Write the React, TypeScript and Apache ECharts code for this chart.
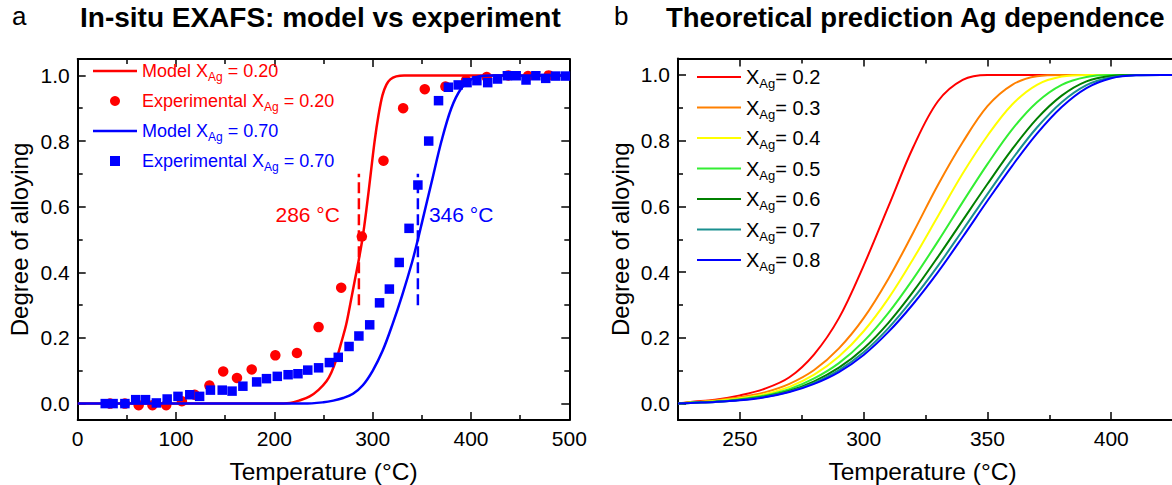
import React, { useEffect, useRef } from "react";
import * as echarts from "echarts";

// ---------- Panel a data ----------
const modelRed: number[][] = [
  [0, 0], [200, 0], [216, 0.002], [226, 0.01], [236, 0.022], [245, 0.042], [253, 0.068], [258, 0.095],
  [263, 0.134], [268, 0.185], [273, 0.24], [277, 0.3], [282, 0.378], [286, 0.44], [290, 0.51],
  [294, 0.6], [298, 0.7], [302, 0.8], [306, 0.88], [310, 0.94], [314, 0.972], [318, 0.988],
  [324, 0.997], [332, 1.0], [500, 1.0],
];
const modelBlue: number[][] = [
  [0, 0], [230, 0], [250, 0.004], [260, 0.009], [270, 0.017], [280, 0.03], [290, 0.056], [300, 0.1],
  [310, 0.16], [320, 0.24], [330, 0.33], [340, 0.43], [346, 0.5], [350, 0.55], [360, 0.675],
  [370, 0.8], [380, 0.9], [390, 0.96], [400, 0.988], [410, 0.998], [420, 1.0], [500, 1.0],
];
const expRed: number[][] = [
  [33, 0], [48, 0], [62, -0.005], [76, -0.005], [90, -0.005], [106, 0.007], [119, 0.027], [134, 0.055],
  [148, 0.098], [162, 0.078], [177, 0.104], [201, 0.147], [223, 0.154], [245, 0.233], [268, 0.353],
  [289, 0.509], [311, 0.74], [331, 0.9], [353, 0.958], [374, 0.966], [395, 0.985], [416, 0.995],
  [438, 1.0], [458, 0.998], [479, 1.0],
];
const expBlue: number[][] = [
  [28, 0], [36, 0], [48, 0], [59, 0.012], [69, 0.012], [80, 0.002], [91, 0.014], [102, 0.022],
  [114, 0.027], [124, 0.022], [135, 0.041], [147, 0.041], [157, 0.038], [168, 0.053], [182, 0.066],
  [192, 0.076], [203, 0.083], [214, 0.088], [224, 0.091], [234, 0.102], [245, 0.109], [256, 0.125],
  [265, 0.141], [276, 0.174], [286, 0.206], [297, 0.24], [307, 0.307], [317, 0.349], [327, 0.43],
  [337, 0.534], [346, 0.666], [357, 0.8], [367, 0.923], [377, 0.964], [387, 0.971], [396, 0.978],
  [406, 0.984], [417, 0.978], [427, 0.989], [437, 0.999], [446, 0.999], [456, 0.986], [466, 0.999],
  [476, 0.991], [486, 0.998], [496, 0.998],
];
const markTemps = [286, 346];
const markRange = [0.3, 0.7];
const markLabelY = 0.575;

// ---------- Panel b data ----------
const tGrid = [225, 230, 240, 250, 260, 270, 280, 290, 300, 310, 320, 330, 340, 350, 360, 370, 380, 390, 400, 410, 420, 450];
const curve02 = [0, .005, .012, .025, .045, .08, .15, .26, .42, .60, .78, .92, .985, 1, 1, 1, 1, 1, 1, 1, 1, 1];
const curve03 = [0, .004, .01, .019, .034, .06, .102, .168, .26, .38, .52, .665, .795, .905, .97, .996, 1, 1, 1, 1, 1, 1];
const curve04 = [0, .003, .008, .016, .029, .051, .088, .143, .22, .32, .44, .57, .70, .815, .91, .97, .995, 1, 1, 1, 1, 1];
const curve05 = [0, .003, .0066, .0133, .0248, .044, .0766, .1232, .1892, .276, .3795, .4935, .613, .7285, .8345, .917, .97, .9939, .9996, 1, 1, 1];
const curve06 = [0, .002, .0052, .0116, .0218, .0392, .0678, .1092, .1676, .2456, .3404, .4464, .5576, .668, .774, .867, .937, .9804, .9968, 1, 1, 1];
const curve07 = [0, .002, .005, .0105, .020, .0365, .063, .1015, .156, .2295, .319, .419, .5275, .6375, .744, .84, .917, .969, .993, .999, 1, 1];
const curve08 = [0, .002, .005, .010, .019, .035, .06, .096, .148, .218, .303, .40, .507, .617, .7235, .8215, .9025, .96, .99, .999, 1, 1];
const fractions = ["0.2", "0.3", "0.4", "0.5", "0.6", "0.7", "0.8"];
const curveColors = ["#ff0000", "#ff8000", "#ffff00", "#33ee33", "#008000", "#1a8f8f", "#0000ff"];
const curves = [curve02, curve03, curve04, curve05, curve06, curve07, curve08];

const yMajor = [0, 0.2, 0.4, 0.6, 0.8, 1.0];
const yMinor = [0.1, 0.3, 0.5, 0.7, 0.9];
const bMajorX = [250, 300, 350, 400, 450];
const bLabelX = [250, 300, 350, 400];
const bMinorX = [275, 325, 375, 425];

const FONT = "'Liberation Sans', Arial, sans-serif";
const BLACK = "#000";
const LINE_ICON = "path://M0,0L44,0L44,2.5L0,2.5Z";
const LINE_ICON_B = "path://M0,0L44,0L44,2L0,2Z";
const SQUARE_ICON = "path://M0,0L10,0L10,10L0,10Z";

function buildOption() {
  const axisLine = { show: true, onZero: false, lineStyle: { color: BLACK, width: 2 } };
  const tickMajor = { show: true, inside: true, length: 8, lineStyle: { color: BLACK, width: 1.5 } };
  const tickMinor = { show: true, inside: true, length: 5, lineStyle: { color: BLACK, width: 1.5 } };
  const label = { show: true, color: BLACK, fontSize: 21, fontFamily: FONT, margin: 8 };
  const nameStyle = { color: BLACK, fontSize: 24.5, fontFamily: FONT };
  const noLabel = { show: false };
  const noSplit = { show: false };

  const gA = { left: 77.7, top: 59, width: 491.6, height: 361 };
  const gB = { left: 678, top: 58.5, width: 557, height: 361.5 };

  const xAxis: any[] = [
    {
      gridIndex: 0, type: "value", position: "bottom", min: 0, max: 500, interval: 100,
      axisLine, axisTick: tickMajor, minorTick: { show: true, splitNumber: 2, length: 5, lineStyle: { color: BLACK, width: 1.5 } },
      axisLabel: label, splitLine: noSplit, minorSplitLine: noSplit,
      name: "Temperature (°C)", nameLocation: "middle", nameGap: 39, nameTextStyle: nameStyle,
    },
    {
      gridIndex: 0, type: "value", position: "top", min: 0, max: 500, interval: 100,
      axisLine, axisTick: tickMajor, minorTick: { show: true, splitNumber: 2, length: 5, lineStyle: { color: BLACK, width: 1.5 } },
      axisLabel: noLabel, splitLine: noSplit, minorSplitLine: noSplit,
    },
    {
      gridIndex: 1, type: "value", position: "bottom", min: 225, max: 450,
      axisLine, axisTick: { ...tickMajor, customValues: bMajorX },
      axisLabel: { ...label, customValues: bLabelX }, splitLine: noSplit,
      name: "Temperature (°C)", nameLocation: "middle", nameGap: 39,
      nameTextStyle: { ...nameStyle, padding: [0, 68, 0, 0] },
    },
    {
      gridIndex: 1, type: "value", position: "top", min: 225, max: 450,
      axisLine, axisTick: { ...tickMajor, customValues: bMajorX }, axisLabel: noLabel, splitLine: noSplit,
    },
    {
      gridIndex: 1, type: "value", position: "bottom", min: 225, max: 450,
      axisLine: { show: false, onZero: false }, axisTick: { ...tickMinor, customValues: bMinorX }, axisLabel: noLabel, splitLine: noSplit,
    },
    {
      gridIndex: 1, type: "value", position: "top", min: 225, max: 450,
      axisLine: { show: false, onZero: false }, axisTick: { ...tickMinor, customValues: bMinorX }, axisLabel: noLabel, splitLine: noSplit,
    },
  ];

  const yLabel = { ...label, customValues: yMajor, formatter: (v: number) => v.toFixed(1) };
  const mkY = (gridIndex: number, position: string, major: boolean, withLabel: boolean, withName: boolean) => {
    const ax: any = {
      gridIndex, type: "value", position, min: -0.05, max: 1.05,
      axisLine: major ? axisLine : { show: false, onZero: false },
      axisTick: major ? { ...tickMajor, customValues: yMajor } : { ...tickMinor, customValues: yMinor },
      axisLabel: withLabel ? yLabel : noLabel,
      splitLine: noSplit,
    };
    if (withName) {
      ax.name = "Degree of alloying";
      ax.nameLocation = "middle";
      ax.nameGap = 46;
      ax.nameTextStyle = { ...nameStyle, fontSize: 24 };
    }
    return ax;
  };
  const yAxis: any[] = [
    mkY(0, "left", true, true, true),
    mkY(0, "left", false, false, false),
    mkY(0, "right", true, false, false),
    mkY(0, "right", false, false, false),
    mkY(1, "left", true, true, true),
    mkY(1, "left", false, false, false),
  ];

  const SM = 0.35;
  const series: any[] = [
    {
      name: "m20", type: "line", xAxisIndex: 0, yAxisIndex: 0, data: modelRed, symbol: "none",
      smooth: SM, color: "#ff0000", lineStyle: { color: "#ff0000", width: 2.5 }, z: 2,
    },
    {
      name: "e20", type: "scatter", xAxisIndex: 0, yAxisIndex: 0, data: expRed, symbol: "circle",
      symbolSize: 10.5, itemStyle: { color: "#ff0000", opacity: 1 }, z: 3,
    },
    {
      name: "m70", type: "line", xAxisIndex: 0, yAxisIndex: 0, data: modelBlue, symbol: "none",
      smooth: SM, color: "#0000ff", lineStyle: { color: "#0000ff", width: 2.5 }, z: 4,
    },
    {
      name: "e70", type: "scatter", xAxisIndex: 0, yAxisIndex: 0, data: expBlue, symbol: "rect",
      symbolSize: 9.5, itemStyle: { color: "#0000ff", opacity: 1 }, z: 5,
    },
  ];
  const markColors = ["#ff0000", "#0000ff"];
  markTemps.forEach((t, i) => {
    series.push({
      name: "dash" + t, type: "line", xAxisIndex: 0, yAxisIndex: 0, symbol: "none",
      data: markRange.map((y) => [t, y]),
      lineStyle: { color: markColors[i], width: 2.5, type: [11, 5] }, z: 6, silent: true,
    });
    series.push({
      name: "lbl" + t, type: "scatter", xAxisIndex: 0, yAxisIndex: 0, symbolSize: 0,
      data: [[t, markLabelY]], silent: true, z: 6, itemStyle: { opacity: 1 },
      label: {
        show: true, position: i === 0 ? "left" : "right", distance: i === 0 ? 19 : 11,
        formatter: `${t} °C`, color: markColors[i], fontSize: 21, fontFamily: FONT, opacity: 1,
      },
    });
  });
  curves.forEach((c, i) => {
    series.push({
      name: fractions[i], type: "line", xAxisIndex: 2, yAxisIndex: 4,
      data: tGrid.map((t, k) => [t, c[k]]), symbol: "none", smooth: SM,
      color: curveColors[i], lineStyle: { color: curveColors[i], width: 2 }, z: 2 + i,
    });
  });

  const legendA: Record<string, string> = {
    m20: "{n|Model X}{s|Ag}{n| = 0.20}",
    e20: "{n|Experimental X}{s|Ag}{n| = 0.20}",
    m70: "{n|Model X}{s|Ag}{n| = 0.70}",
    e70: "{n|Experimental X}{s|Ag}{n| = 0.70}",
  };

  return {
    animation: false,
    textStyle: { fontFamily: FONT },
    title: [
      { text: "a", left: 12, top: 3, padding: 0, textStyle: { fontSize: 26, fontWeight: "normal", color: BLACK, fontFamily: FONT } },
      { text: "In-situ EXAFS: model vs experiment", left: 80, top: 3, padding: 0, textStyle: { fontSize: 28, fontWeight: "bold", color: BLACK, fontFamily: FONT } },
      { text: "b", left: 614, top: 3, padding: 0, textStyle: { fontSize: 26, fontWeight: "normal", color: BLACK, fontFamily: FONT } },
      { text: "Theoretical prediction Ag dependence", left: 666, top: 3, padding: 0, textStyle: { fontSize: 27.5, fontWeight: "bold", color: BLACK, fontFamily: FONT } },
    ],
    grid: [
      { ...gA, containLabel: false, outerBoundsMode: "none" },
      { ...gB, containLabel: false, outerBoundsMode: "none" },
    ],
    legend: [
      {
        orient: "vertical", left: 93, top: 62, padding: 0, itemWidth: 44, itemHeight: 10, itemGap: 9,
        selectedMode: false,
        data: [
          { name: "m20", icon: LINE_ICON, textStyle: { color: "#ff0000" } },
          { name: "e20", icon: "circle", textStyle: { color: "#ff0000" } },
          { name: "m70", icon: LINE_ICON, textStyle: { color: "#0000ff" } },
          { name: "e70", icon: SQUARE_ICON, textStyle: { color: "#0000ff" } },
        ],
        formatter: (name: string) => legendA[name],
        textStyle: {
          fontFamily: FONT,
          rich: {
            n: { fontSize: 18, lineHeight: 24, fontFamily: FONT },
            s: { fontSize: 12, lineHeight: 8, verticalAlign: "bottom", fontFamily: FONT },
          },
        },
      },
      {
        orient: "vertical", left: 697, top: 67, padding: 0, itemWidth: 44, itemHeight: 10, itemGap: 7.5,
        selectedMode: false,
        data: fractions.map((f) => ({ name: f, icon: LINE_ICON_B })),
        formatter: (name: string) => `{n|X}{s|Ag}{n|= ${name}}`,
        textStyle: {
          color: BLACK, fontFamily: FONT,
          rich: {
            n: { fontSize: 20, lineHeight: 26, color: BLACK, fontFamily: FONT },
            s: { fontSize: 13, lineHeight: 10, verticalAlign: "bottom", color: BLACK, fontFamily: FONT },
          },
        },
      },
    ],
    xAxis,
    yAxis,
    series,
  };
}

export default function App() {
  const ref = useRef<HTMLDivElement>(null);
  useEffect(() => {
    document.body.style.margin = "0";
    const chart = echarts.init(ref.current as HTMLDivElement, undefined, { renderer: "svg" });
    chart.setOption(buildOption() as any);
    return () => chart.dispose();
  }, []);
  return <div ref={ref} style={{ width: 1172, height: 485, background: "#fff" }} />;
}
